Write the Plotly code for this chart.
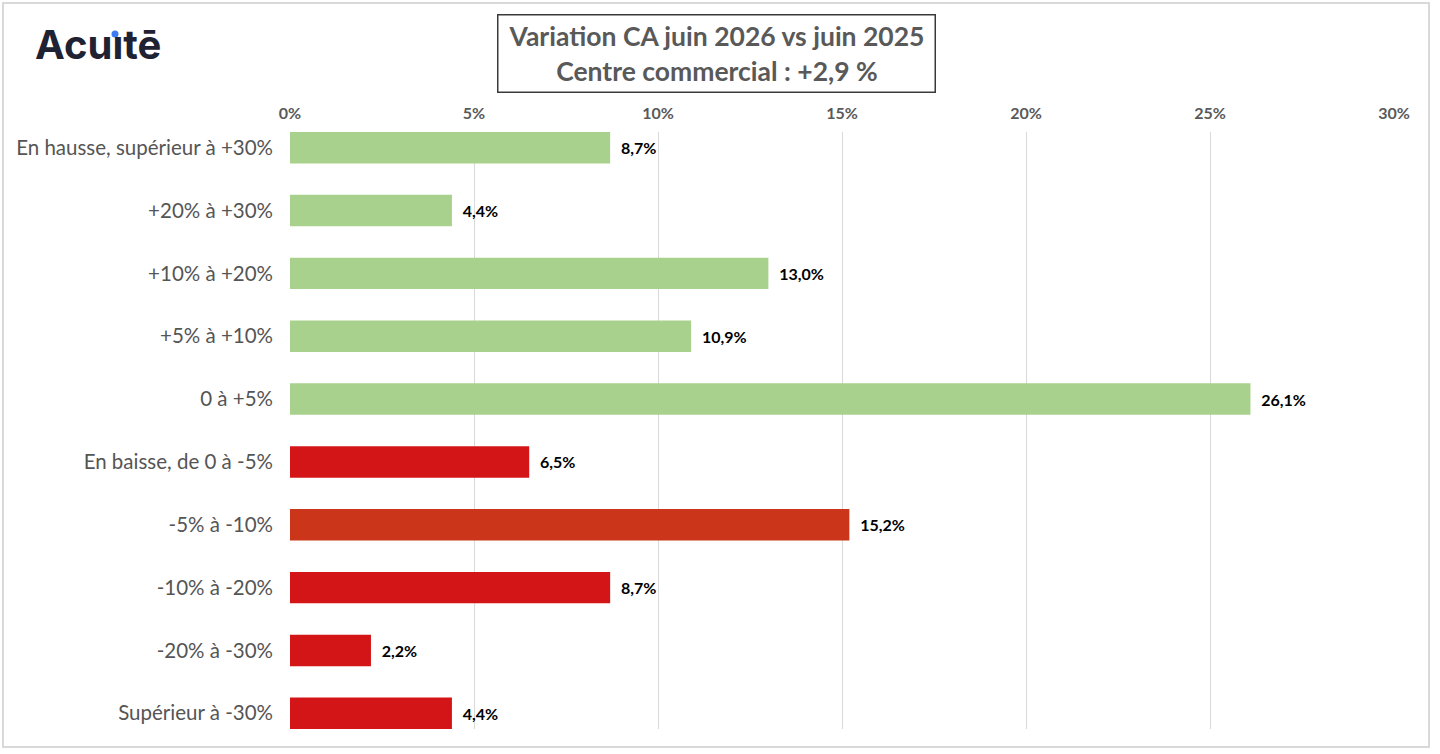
import plotly.graph_objects as go

categories = [
    "En hausse, supérieur à +30%",
    "+20% à +30%",
    "+10% à +20%",
    "+5% à +10%",
    "0 à +5%",
    "En baisse, de 0 à -5%",
    "-5% à -10%",
    "-10% à -20%",
    "-20% à -30%",
    "Supérieur à -30%",
]
values = [0.087, 0.044, 0.130, 0.109, 0.261, 0.065, 0.152, 0.087, 0.022, 0.044]
bar_colors = ["#A9D18E"] * 5 + ["#D31517", "#CB3519", "#D31517", "#D31517", "#D31517"]
tick_vals = [0, 0.05, 0.10, 0.15, 0.20, 0.25, 0.30]
title_lines = ["Variation CA juin 2026 vs juin 2025", "Centre commercial : +2,9 %"]

W, H = 1440, 754
L, R, T, B = 290, 1394, 132, 729

def px(x):
    return (x - L) / (R - L)

def py(y):
    return (B - y) / (B - T)

fig = go.Figure(
    go.Bar(
        x=values,
        y=categories,
        orientation="h",
        width=0.5,
        marker=dict(color=bar_colors, line=dict(width=0)),
        text=["  " + f"{v*100:.1f}".replace(".", ",") + "%" for v in values],
        textposition="outside",
        textfont=dict(family="Lato", size=16, color="#000000", weight="bold"),
        cliponaxis=False,
        hoverinfo="skip",
    )
)

fig.update_layout(
    width=W,
    height=H,
    margin=dict(l=L, r=W - R, t=T, b=H - B, autoexpand=False),
    paper_bgcolor="white",
    plot_bgcolor="white",
    showlegend=False,
    separators=", ",
    font=dict(family="Lato", color="#595959"),
    bargap=0.5,
)
fig.update_xaxes(
    side="top",
    range=[0, 0.30],
    tickvals=tick_vals,
    tickformat=".0%",
    tickfont=dict(family="Lato", size=16, color="#595959", weight="bold"),
    showgrid=True,
    gridcolor="#D9D9D9",
    gridwidth=1,
    zeroline=False,
    showline=False,
    ticks="",
    ticklabelstandoff=9,
    fixedrange=True,
)
fig.update_yaxes(
    categoryorder="array",
    categoryarray=categories,
    range=[9.25, -0.25],
    tickfont=dict(family="Lato", size=20.5, color="#555555"),
    showgrid=False,
    zeroline=False,
    showline=False,
    ticks="",
    ticklabelstandoff=16,
    fixedrange=True,
)

shapes = [
    # outer frame
    dict(type="rect", xref="paper", yref="paper",
         x0=px(3), x1=px(1429), y0=py(747), y1=py(3),
         line=dict(color="#D9D9D9", width=2), fillcolor="rgba(0,0,0,0)", layer="below"),
    # logo dot
    dict(type="circle", xref="paper", yref="paper",
         x0=px(111.5), x1=px(118.5), y0=py(37.5), y1=py(30.5),
         line=dict(width=0), fillcolor="#3D7BF5"),
]
fig.update_layout(shapes=shapes)

fig.add_annotation(
    xref="paper", yref="paper", x=px(716.5), y=py(53),
    xanchor="center", yanchor="middle",
    text="<b>" + "<br>".join(title_lines) + "</b>",
    showarrow=False,
    font=dict(family="Lato", size=26.5, color="#595959"),
    width=434, height=74,
    bordercolor="#3A3A3A", borderwidth=1.5, borderpad=1,
    bgcolor="white",
)
fig.add_annotation(
    xref="paper", yref="paper", x=px(33), y=py(45),
    xanchor="left", yanchor="middle",
    text="<b>Acuıtē</b>",
    showarrow=False,
    font=dict(family="Inter", size=40, color="#1F2232"),
)

fig.write_html(
    "out.html",
    config={"displayModeBar": False, "staticPlot": True},
    post_script="document.body.style.margin='0px';document.body.style.overflow='hidden';",
)
